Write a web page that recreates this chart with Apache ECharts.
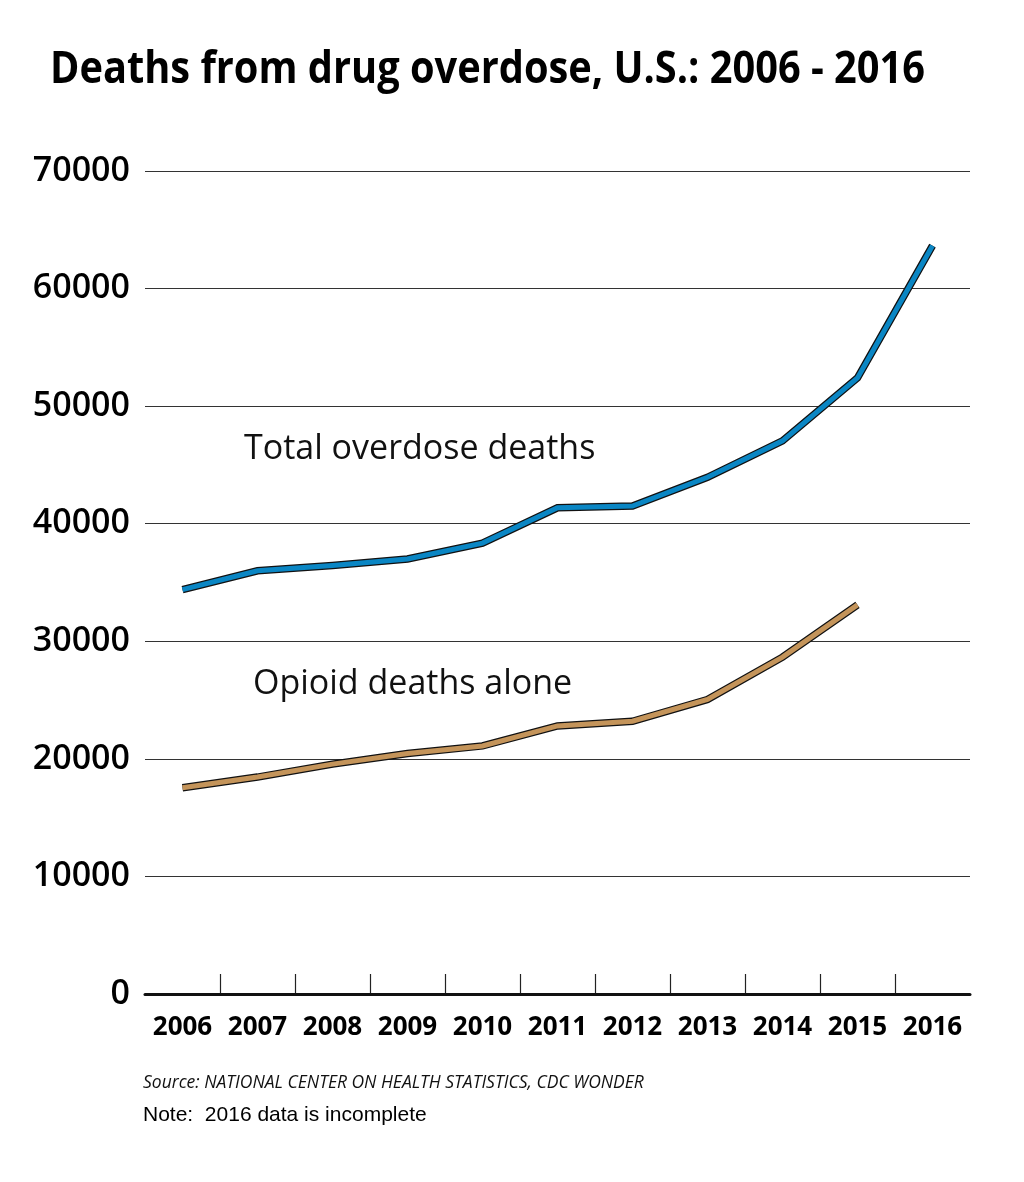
<!DOCTYPE html>
<html>
<head>
<meta charset="utf-8">
<script src="https://cdn.jsdelivr.net/npm/echarts@6/dist/echarts.min.js"></script>
<style>
html,body{margin:0;padding:0;background:#fff;}
#chart{width:1024px;height:1182px;}
</style>
</head>
<body>
<div id="chart"></div>
<script>
const years = ['2006','2007','2008','2009','2010','2011','2012','2013','2014','2015','2016'];
const totalDeaths = [34400, 36000, 36450, 37000, 38350, 41350, 41500, 43950, 47050, 52400, 63650];
const opioidDeaths = [17550, 18450, 19550, 20450, 21100, 22800, 23200, 25050, 28650, 33100, null];
const yTicks = [0, 10000, 20000, 30000, 40000, 50000, 60000, 70000];
const titleText = 'Deaths from drug overdose, U.S.: 2006 - 2016';

const chart = echarts.init(document.getElementById('chart'), null, {renderer: 'canvas'});

// condense the title horizontally to the target width
const titleFont = 'bold 45px "Open Sans"';
const mctx = document.createElement('canvas').getContext('2d');
mctx.font = titleFont;
const titleScale = 875 / mctx.measureText(titleText).width;

function lineSeries(name, data, color, outer) {
  return {
    name: name,
    type: 'line',
    data: data,
    xAxisIndex: 0, yAxisIndex: 0,
    symbol: 'none',
    silent: true,
    z: outer ? 3 : 4,
    lineStyle: {
      color: outer ? '#111' : color,
      width: outer ? 7.5 : 5,
      cap: 'butt',
      join: 'miter'
    }
  };
}

const option = {
  animation: false,
  backgroundColor: '#fff',
  grid: [
    {left: 145, right: 54, top: 171, bottom: 188},
    {left: 220, right: 129, top: 171, bottom: 188}
  ],
  xAxis: [
    {
      type: 'category', data: years, gridIndex: 0, boundaryGap: true,
      axisLine: {show: true, lineStyle: {color: '#111', width: 3}},
      axisTick: {show: false},
      axisLabel: {interval: 0, margin: 21, fontFamily: 'Open Sans', fontWeight: 'bold', fontSize: 26, color: '#000'},
      splitLine: {show: false},
      z: 5
    },
    {
      type: 'value', gridIndex: 1, min: 1, max: 10, interval: 1,
      axisLine: {show: false},
      axisTick: {show: true, inside: true, length: 20, lineStyle: {color: '#222', width: 1.2}},
      axisLabel: {show: false},
      splitLine: {show: false}
    }
  ],
  yAxis: [
    {
      type: 'value', gridIndex: 0, min: yTicks[0], max: yTicks[yTicks.length - 1], interval: 10000,
      axisLine: {show: false}, axisTick: {show: false},
      axisLabel: {margin: 15, fontFamily: 'Open Sans', fontWeight: 600, fontSize: 34, color: '#000',
                  formatter: function (v) { return String(v); }},
      splitLine: {show: true, lineStyle: {color: '#333', width: 1.2}}
    },
    {
      type: 'value', gridIndex: 1, min: 0, max: 70000,
      show: false
    }
  ],
  graphic: [
    {type: 'text', x: 50, y: 48, scaleX: titleScale, style: {text: titleText, font: titleFont, fill: '#000'}},
    {type: 'text', left: 244, top: 432, style: {text: 'Total overdose deaths', font: '34px "Open Sans"', fill: '#111'}},
    {type: 'text', left: 253, top: 667, style: {text: 'Opioid deaths alone', font: '34px "Open Sans"', fill: '#111'}},
    {type: 'text', left: 143, top: 1074, style: {text: 'Source: NATIONAL CENTER ON HEALTH STATISTICS, CDC WONDER', font: 'italic 17.5px "Open Sans"', fill: '#111'}},
    {type: 'text', left: 143, top: 1105, style: {text: 'Note:  2016 data is incomplete', font: '21px "Liberation Sans"', fill: '#000'}}
  ],
  series: [
    lineSeries('Total outline', totalDeaths, '#0a86c4', true),
    lineSeries('Total overdose deaths', totalDeaths, '#0a86c4', false),
    lineSeries('Opioid outline', opioidDeaths, '#c4945a', true),
    lineSeries('Opioid deaths alone', opioidDeaths, '#c4945a', false)
  ]
};
chart.setOption(option);
</script>
</body>
</html>
